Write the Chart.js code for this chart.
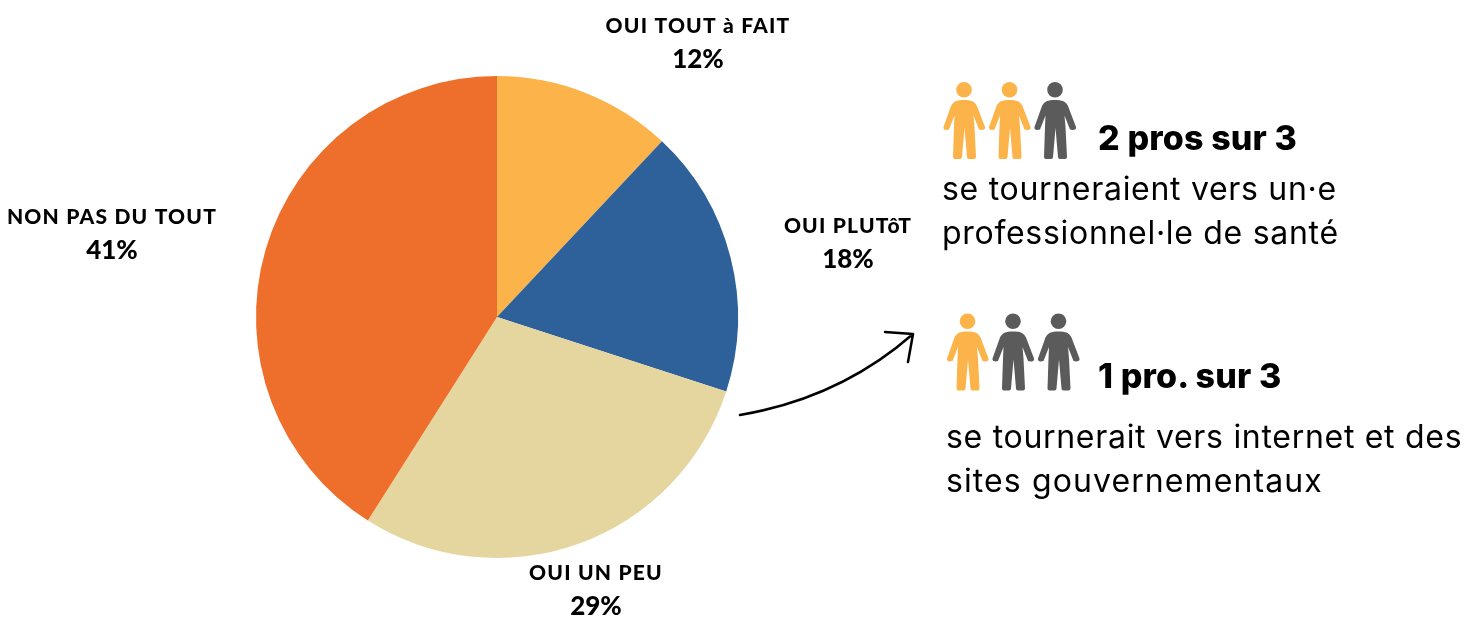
<!DOCTYPE html>
<html lang="fr">
<head>
<meta charset="utf-8">
<title>Graphique</title>
<script src="https://cdn.jsdelivr.net/npm/chart.js@4"></script>
<style>
html,body{margin:0;padding:0;background:#fff;width:1479px;height:618px;overflow:hidden}
#wrap{position:relative;width:1479px;height:618px}
#c{position:absolute;left:0;top:0}
#art{position:absolute;left:0;top:0}
.t{position:absolute;white-space:nowrap;color:#000;font-family:Inter,sans-serif}
.h{font-weight:800;font-size:34px;line-height:40px;letter-spacing:.15px}
.b{font-weight:400;font-size:32px;line-height:44px;letter-spacing:.7px}
</style>
</head>
<body>
<div id="wrap">
<canvas id="c" width="1479" height="618"></canvas>
<svg id="art" width="1479" height="618" viewBox="0 0 1479 618" fill="none">
  <defs>
    <g id="person">
      <circle cx="21" cy="7.800" r="7.800"/>
      <path d="M13 19C16 17.500 26 17.500 29 19C31.500 20 33 22 34 24L42 45C42.500 47 41 48 38.500 48L36 47.500L30.500 33.500L31.500 45L33 75Q33 77 31 77L26 77Q24 77 24 75L21.500 46L19 75Q19 77 17 77L12 77Q10 77 10 75L11 45L11.500 33.500L6 47.500L3 48Q0 47.500 0.500 45L8 24C9 22 10.500 20 13 19Z"/>
    </g>
  </defs>
  <use href="#person" x="943" y="82" fill="#FBB34A"/>
  <use href="#person" x="988.500" y="82" fill="#FBB34A"/>
  <use href="#person" x="1034" y="82" fill="#5B5B5B"/>
  <use href="#person" x="946.500" y="313.500" fill="#FBB34A"/>
  <use href="#person" x="992" y="313.500" fill="#5B5B5B"/>
  <use href="#person" x="1037.500" y="313.500" fill="#5B5B5B"/>
  <path d="M740 415Q840 398 913 334M885 332L913 334L908 362" stroke="#000" stroke-width="2.500" stroke-linecap="round" stroke-linejoin="round"/>
</svg>
<div class="t h" style="left:1098px;top:118px">2 pros sur 3</div>
<div class="t b" style="left:942px;top:167px">se tourneraient vers un·e</div>
<div class="t b" style="left:942px;top:211px">professionnel·le de santé</div>
<div class="t h" style="left:1098px;top:356px">1 pro. sur 3</div>
<div class="t b" style="left:946px;top:415px">se tournerait vers internet et des</div>
<div class="t b" style="left:946px;top:459px;letter-spacing:1.1px">sites gouvernementaux</div>
</div>
<script>
const categories = ["OUI TOUT à FAIT", "OUI PLUTôT", "OUI UN PEU", "NON PAS DU TOUT"];
const values = [12, 18, 29, 41];
const colours = ["#FBB34A", "#2E6099", "#E4D69E", "#EE6F2B"];
const labelCentres = [[698, 26], [848, 226], [596, 573], [112, 217]];

const outsideLabels = {
  id: "outsideLabels",
  afterDraw(chart) {
    const ctx = chart.ctx;
    ctx.save();
    ctx.fillStyle = "#000";
    ctx.textAlign = "center";
    ctx.textBaseline = "middle";
    categories.forEach((name, i) => {
      const [x, y] = labelCentres[i];
      ctx.font = "900 21px Lato, sans-serif";
      ctx.letterSpacing = "1.2px";
      ctx.fillText(name, x, y);
      ctx.font = "900 26px Lato, sans-serif";
      ctx.letterSpacing = "0px";
      ctx.fillText(values[i] + "%", x, y + 34);
    });
    ctx.restore();
  }
};

new Chart(document.getElementById("c"), {
  type: "pie",
  data: {
    labels: categories,
    datasets: [{ data: values, backgroundColor: colours, borderWidth: 0 }]
  },
  options: {
    responsive: false,
    animation: false,
    events: [],
    layout: { padding: { left: 256, top: 76, right: 741, bottom: 60 } },
    plugins: { legend: { display: false }, tooltip: { enabled: false } }
  },
  plugins: [outsideLabels]
});
</script>
</body>
</html>
